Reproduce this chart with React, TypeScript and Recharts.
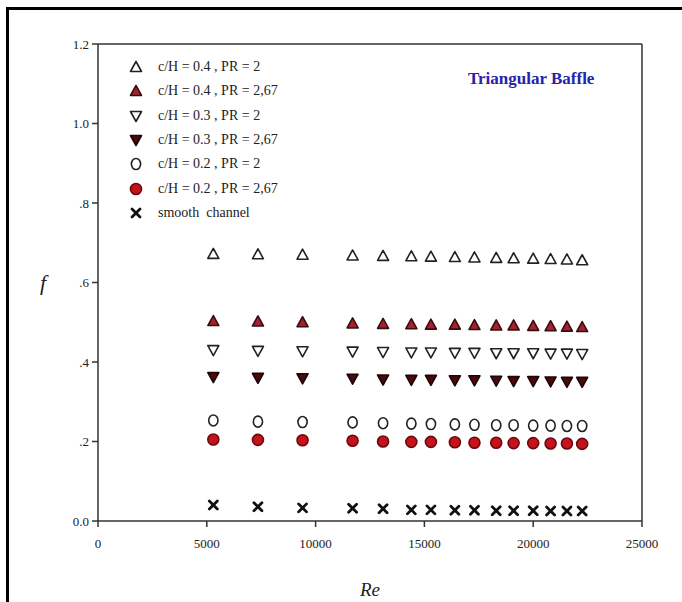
import React from "react";
import { ReferenceLine, Scatter, ScatterChart, XAxis, YAxis } from "recharts";

// Reynolds numbers shared by every series
const RE = [
  5300, 7350, 9400, 11700, 13100, 14400, 15300, 16400, 17300, 18300, 19100,
  20000, 20800, 21550, 22250,
];

// friction factor f per configuration
const F_CH04_PR2 = [
  0.672, 0.671, 0.67, 0.668, 0.667, 0.666, 0.665, 0.664, 0.663, 0.662, 0.661,
  0.66, 0.659, 0.658, 0.656,
];
const F_CH04_PR267 = [
  0.503, 0.502, 0.5, 0.497, 0.496, 0.495, 0.494, 0.494, 0.493, 0.492, 0.492,
  0.491, 0.49, 0.489, 0.488,
];
const F_CH03_PR2 = [
  0.43, 0.428, 0.427, 0.426, 0.425, 0.424, 0.424, 0.423, 0.423, 0.422, 0.422,
  0.422, 0.421, 0.421, 0.42,
];
const F_CH03_PR267 = [
  0.362, 0.36, 0.359, 0.358, 0.356, 0.355, 0.355, 0.354, 0.354, 0.353, 0.352,
  0.352, 0.351, 0.35, 0.35,
];
const F_CH02_PR2 = [
  0.253, 0.25, 0.249, 0.248, 0.246, 0.245, 0.244, 0.243, 0.242, 0.241, 0.241,
  0.24, 0.24, 0.239, 0.239,
];
const F_CH02_PR267 = [
  0.205, 0.204, 0.203, 0.202, 0.2, 0.199, 0.199, 0.198, 0.197, 0.197, 0.196,
  0.196, 0.195, 0.195, 0.194,
];
const F_SMOOTH = [
  0.04, 0.036, 0.033, 0.032, 0.031, 0.028, 0.028, 0.027, 0.027, 0.026, 0.026,
  0.026, 0.025, 0.025, 0.025,
];

const X_TICKS = [0, 5000, 10000, 15000, 20000, 25000];
const Y_TICKS = [0, 0.2, 0.4, 0.6, 0.8, 1.0, 1.2];
const Y_TICK_LABELS = ["0.0", ".2", ".4", ".6", ".8", "1.0", "1.2"];

const FONT = "'Liberation Serif', 'Times New Roman', serif";

type Kind = "up" | "down" | "circle" | "x";

interface Marker {
  kind: Kind;
  fill: string;
  stroke: string;
}

function MarkerShape({ cx, cy, m }: { cx: number; cy: number; m: Marker }) {
  if (m.kind === "up") {
    return (
      <polygon
        points={`${cx},${cy - 5.5} ${cx + 5.5},${cy + 4.5} ${cx - 5.5},${cy + 4.5}`}
        fill={m.fill}
        stroke={m.stroke}
        strokeWidth={1.6}
        strokeLinejoin="round"
      />
    );
  }
  if (m.kind === "down") {
    return (
      <polygon
        points={`${cx - 5.5},${cy - 4.5} ${cx + 5.5},${cy - 4.5} ${cx},${cy + 5.5}`}
        fill={m.fill}
        stroke={m.stroke}
        strokeWidth={1.6}
        strokeLinejoin="round"
      />
    );
  }
  if (m.kind === "circle") {
    return (
      <ellipse
        cx={cx}
        cy={cy}
        rx={m.fill === "#fff" ? 4.6 : 5.5}
        ry={5.5}
        fill={m.fill}
        stroke={m.stroke}
        strokeWidth={1.6}
      />
    );
  }
  return (
    <g stroke={m.stroke} strokeWidth={2.8} strokeLinecap="round">
      <line x1={cx - 4} y1={cy - 4} x2={cx + 4} y2={cy + 4} />
      <line x1={cx - 4} y1={cy + 4} x2={cx + 4} y2={cy - 4} />
    </g>
  );
}

const SERIES: { name: string; values: number[]; marker: Marker }[] = [
  {
    name: "c/H = 0.4 , PR = 2",
    values: F_CH04_PR2,
    marker: { kind: "up", fill: "#fff", stroke: "#222" },
  },
  {
    name: "c/H = 0.4 , PR = 2,67",
    values: F_CH04_PR267,
    marker: { kind: "up", fill: "#a3222f", stroke: "#3a0c10" },
  },
  {
    name: "c/H = 0.3 , PR = 2",
    values: F_CH03_PR2,
    marker: { kind: "down", fill: "#fff", stroke: "#222" },
  },
  {
    name: "c/H = 0.3 , PR = 2,67",
    values: F_CH03_PR267,
    marker: { kind: "down", fill: "#4a0a0c", stroke: "#1e0406" },
  },
  {
    name: "c/H = 0.2 , PR = 2",
    values: F_CH02_PR2,
    marker: { kind: "circle", fill: "#fff", stroke: "#222" },
  },
  {
    name: "c/H = 0.2 , PR = 2,67",
    values: F_CH02_PR267,
    marker: { kind: "circle", fill: "#c5121b", stroke: "#6a0a0e" },
  },
  {
    name: "smooth  channel",
    values: F_SMOOTH,
    marker: { kind: "x", fill: "#111", stroke: "#111" },
  },
];

function LegendBox() {
  return (
    <div
      style={{
        position: "absolute",
        left: 129,
        top: 55,
        fontFamily: FONT,
        fontSize: 14,
        color: "#222",
      }}
    >
      {SERIES.map((s) => (
        <div
          key={s.name}
          style={{ display: "flex", alignItems: "center", height: 24.3 }}
        >
          <svg width={14} height={14} style={{ marginRight: 15 }}>
            <MarkerShape cx={7} cy={7} m={s.marker} />
          </svg>
          <span style={{ whiteSpace: "pre" }}>{s.name}</span>
        </div>
      ))}
    </div>
  );
}

export default function App() {
  return (
    <div
      style={{
        position: "absolute",
        left: 0,
        top: 0,
        width: 682,
        height: 602,
        background: "#fff",
        overflow: "hidden",
      }}
    >
      <div
        style={{
          position: "absolute",
          left: 6,
          top: 7,
          right: -10,
          bottom: -10,
          borderTop: "3px solid #000",
          borderLeft: "3px solid #000",
        }}
      />
      <ScatterChart
        width={682}
        height={602}
        margin={{ top: 44, right: 40, bottom: 0, left: 0 }}
        style={{ position: "absolute", left: 0, top: 0 }}
      >
        <XAxis
          type="number"
          dataKey="re"
          domain={[0, 25000]}
          ticks={X_TICKS}
          interval={0}
          height={81}
          tickSize={6}
          tickMargin={12}
          stroke="#333"
          strokeWidth={1.5}
          tick={{ fill: "#222", fontFamily: FONT, fontSize: 13 }}
          label={{
            value: "Re",
            position: "insideBottom",
            offset: 6,
            fill: "#222",
            fontFamily: FONT,
            fontSize: 19,
            fontStyle: "italic",
          }}
        />
        <YAxis
          type="number"
          dataKey="f"
          domain={[0, 1.2]}
          ticks={Y_TICKS}
          interval={0}
          width={98}
          tickSize={6}
          tickMargin={3}
          stroke="#333"
          strokeWidth={1.5}
          tick={{ fill: "#222", fontFamily: FONT, fontSize: 13 }}
          tickFormatter={(v: number) => Y_TICK_LABELS[Y_TICKS.indexOf(v)] ?? ""}
          label={{
            value: "f",
            position: "insideLeft",
            offset: 40,
            fill: "#222",
            fontFamily: FONT,
            fontSize: 22,
            fontStyle: "italic",
          }}
        />
        <ReferenceLine y={1.2} stroke="#333" strokeWidth={1.5} />
        <ReferenceLine x={25000} stroke="#333" strokeWidth={1.5} />
        {SERIES.map((s) => (
          <Scatter
            key={s.name}
            name={s.name}
            data={RE.map((re, i) => ({ re, f: s.values[i] }))}
            isAnimationActive={false}
            shape={(p: any) => <MarkerShape cx={p.cx} cy={p.cy} m={s.marker} />}
          />
        ))}
      </ScatterChart>
      <LegendBox />
      <div
        style={{
          position: "absolute",
          left: 468,
          top: 69,
          fontFamily: FONT,
          fontSize: 17,
          fontWeight: "bold",
          color: "#2424ad",
          whiteSpace: "nowrap",
        }}
      >
        Triangular Baffle
      </div>
    </div>
  );
}
